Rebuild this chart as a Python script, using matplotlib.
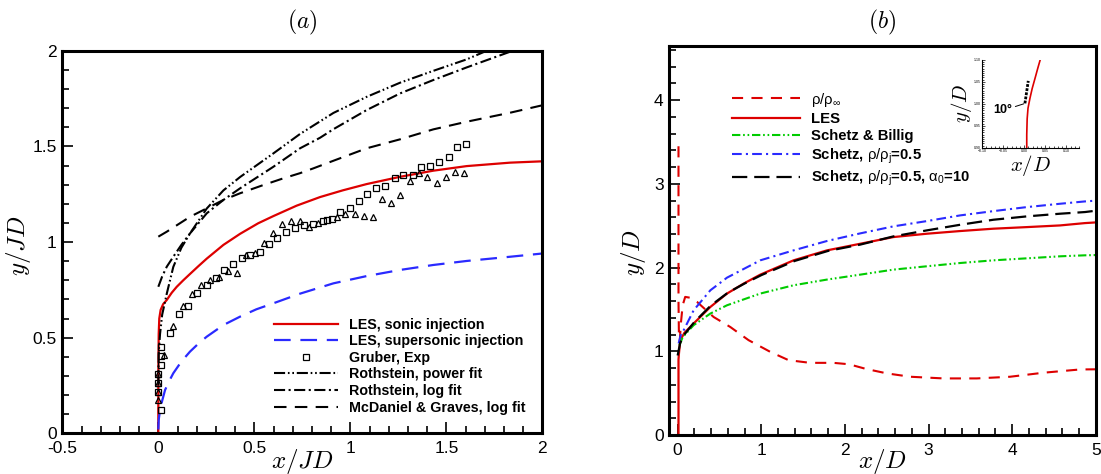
import matplotlib
matplotlib.use('Agg')
import matplotlib.pyplot as plt
from matplotlib.ticker import MultipleLocator

plt.rcParams['font.family'] = 'Liberation Sans'
plt.rcParams['mathtext.fontset'] = 'custom'
plt.rcParams['mathtext.rm'] = 'Liberation Sans'
plt.rcParams['mathtext.it'] = 'Liberation Sans'
plt.rcParams['mathtext.bf'] = 'Liberation Sans:bold'
plt.rcParams['lines.scale_dashes'] = False

# ---- (a) trajectories scaled by J*D ----
les_sonic_x = [0.0, 0.0, 0.002, 0.005, 0.012, 0.025, 0.044, 0.07, 0.096, 0.13, 0.165, 0.21, 0.252,
               0.339, 0.426, 0.52, 0.6, 0.72, 0.842, 0.96, 1.085, 1.259, 1.432, 1.606, 1.832, 2.0]
les_sonic_y = [0.0, 0.3, 0.52, 0.6, 0.645, 0.675, 0.697, 0.735, 0.766, 0.80, 0.833, 0.875, 0.913,
               0.985, 1.043, 1.098, 1.136, 1.19, 1.235, 1.27, 1.303, 1.341, 1.373, 1.397, 1.415, 1.422]

les_super_x = [0.0, 0.002, 0.009, 0.02, 0.035, 0.055, 0.078, 0.12, 0.165, 0.21, 0.252, 0.339, 0.426,
               0.51, 0.6, 0.738, 0.912, 1.085, 1.259, 1.432, 1.606, 1.832, 2.0]
les_super_y = [0.02, 0.07, 0.122, 0.17, 0.226, 0.27, 0.314, 0.375, 0.427, 0.47, 0.505, 0.566, 0.61,
               0.648, 0.68, 0.73, 0.784, 0.822, 0.854, 0.88, 0.901, 0.923, 0.94]

gruber_sq_x = [0.012, 0.012, 0.012, 0.0, 0.0, 0.0, 0.012, 0.061, 0.108, 0.156, 0.203, 0.252, 0.299,
               0.344, 0.391, 0.434, 0.479, 0.53, 0.575, 0.618, 0.664, 0.712, 0.759, 0.807, 0.856,
               0.88, 0.903, 0.946, 0.998, 1.045, 1.089, 1.134, 1.182, 1.231, 1.274, 1.328, 1.368,
               1.417, 1.464, 1.512, 1.556, 1.603]
gruber_sq_y = [0.453, 0.406, 0.358, 0.311, 0.263, 0.214, 0.122, 0.526, 0.622, 0.667, 0.735, 0.774,
               0.813, 0.854, 0.885, 0.915, 0.93, 0.946, 0.988, 1.023, 1.054, 1.072, 1.091, 1.094,
               1.11, 1.115, 1.12, 1.158, 1.176, 1.214, 1.253, 1.284, 1.293, 1.333, 1.352, 1.352,
               1.39, 1.397, 1.417, 1.443, 1.495, 1.511]

gruber_tri_x = [0.0, 0.0, 0.0, 0.0, 0.03, 0.078, 0.127, 0.174, 0.222, 0.269, 0.315, 0.365, 0.408,
                0.457, 0.504, 0.551, 0.599, 0.643, 0.691, 0.738, 0.786, 0.833, 0.929, 0.972, 1.024,
                1.071, 1.12, 1.167, 1.21, 1.257, 1.309, 1.356, 1.401, 1.45, 1.497, 1.544, 1.592]
gruber_tri_y = [0.174, 0.217, 0.265, 0.31, 0.409, 0.561, 0.667, 0.728, 0.774, 0.801, 0.819, 0.848,
                0.84, 0.932, 0.943, 0.996, 1.049, 1.094, 1.108, 1.111, 1.08, 1.098, 1.132, 1.146,
                1.146, 1.136, 1.129, 1.223, 1.205, 1.246, 1.321, 1.359, 1.338, 1.31, 1.341, 1.366,
                1.359]

power_x = [0.0, 0.002, 0.009, 0.02, 0.044, 0.078, 0.12, 0.165, 0.252, 0.339, 0.426, 0.6, 0.738,
           0.912, 1.085, 1.259, 1.432, 1.606, 1.71]
power_y = [0.25, 0.42, 0.52, 0.62, 0.73, 0.87, 0.97, 1.045, 1.175, 1.27, 1.34, 1.464, 1.565,
           1.675, 1.759, 1.833, 1.895, 1.955, 2.0]

logfit_x = [0.0, 0.02, 0.044, 0.078, 0.12, 0.165, 0.252, 0.339, 0.426, 0.6, 0.738, 0.842, 0.912,
            1.085, 1.259, 1.432, 1.606, 1.832, 1.845]
logfit_y = [0.766, 0.82, 0.871, 0.923, 0.985, 1.045, 1.15, 1.22, 1.281, 1.394, 1.49, 1.545, 1.59,
            1.69, 1.777, 1.847, 1.913, 1.995, 2.0]

mcd_x = [0.0, 0.044, 0.165, 0.339, 0.426, 0.547, 0.651, 0.738, 0.807, 0.912, 1.085, 1.259, 1.432,
         1.606, 1.832, 2.0]
mcd_y = [1.028, 1.054, 1.132, 1.22, 1.255, 1.298, 1.333, 1.36, 1.385, 1.425, 1.49, 1.537, 1.589,
         1.629, 1.676, 1.715]

# ---- (b) trajectories scaled by D ----
rho_x = [0.01, 0.01, 0.01, 0.015, 0.025, 0.04, 0.06, 0.09, 0.15, 0.232, 0.43, 0.63, 0.848, 1.108,
         1.326, 1.585, 1.864, 2.05, 2.25, 2.502, 2.78, 3.178, 3.577, 3.975, 4.373, 4.811, 5.0]
rho_y = [3.45, 2.5, 1.6, 1.2, 1.12, 1.35, 1.55, 1.65, 1.64, 1.59, 1.41, 1.29, 1.133, 0.993,
         0.894, 0.862, 0.862, 0.845, 0.79, 0.736, 0.696, 0.676, 0.676, 0.696, 0.744, 0.783, 0.785]

les_b_x = [0.01, 0.01, 0.015, 0.032, 0.08, 0.191, 0.391, 0.59, 0.789, 0.988, 1.386, 1.785, 2.183,
           2.58, 2.98, 3.378, 3.775, 4.174, 4.572, 4.871, 5.0]
les_b_y = [0.0, 0.9, 0.97, 1.133, 1.22, 1.332, 1.53, 1.69, 1.809, 1.916, 2.087, 2.206, 2.285,
           2.365, 2.405, 2.437, 2.465, 2.484, 2.504, 2.532, 2.54]

billig_x = [0.02, 0.06, 0.191, 0.391, 0.59, 0.988, 1.386, 1.785, 2.183, 2.58, 2.98, 3.378, 3.775,
            4.174, 4.572, 4.871, 5.0]
billig_y = [1.07, 1.17, 1.312, 1.451, 1.55, 1.69, 1.789, 1.857, 1.916, 1.976, 2.016, 2.055, 2.087,
            2.111, 2.135, 2.147, 2.15]

schetz_x = [0.012, 0.035, 0.072, 0.191, 0.391, 0.59, 0.988, 1.386, 1.785, 2.183, 2.58, 2.98, 3.378,
            3.775, 4.174, 4.572, 4.871, 5.0]
schetz_y = [1.094, 1.19, 1.252, 1.49, 1.729, 1.88, 2.087, 2.206, 2.318, 2.409, 2.493, 2.556, 2.624,
            2.675, 2.723, 2.763, 2.791, 2.8]

schetz_a_x = [0.0, 0.03, 0.08, 0.2, 0.4, 0.6, 0.8, 1.0, 1.4, 1.8, 2.183, 2.58, 2.98, 3.378, 3.775,
              4.174, 4.572, 4.871, 5.0]
schetz_a_y = [0.95, 1.1, 1.2, 1.35, 1.55, 1.70, 1.81, 1.91, 2.08, 2.2, 2.275, 2.373, 2.445, 2.512,
              2.572, 2.612, 2.644, 2.664, 2.68]

# near-field close-up
near_x = [0.006, 0.006, 0.007, 0.009, 0.0137, 0.019, 0.026, 0.032, 0.038]
near_y = [0.9, 0.93, 0.966, 0.99, 1.013, 1.035, 1.059, 1.08, 1.1]
angle_x = [0.0017, 0.0096]
angle_y = [1.001, 1.052]

RED = '#dd0000'
BLUE = '#2a2aff'
GREEN = '#00cc00'

fig = plt.figure(figsize=(11.01, 4.74), dpi=100)
ax1 = fig.add_axes([0.0566, 0.0859, 0.436, 0.807])
ax2 = fig.add_axes([0.6079, 0.0823, 0.3874, 0.821])


def frame(ax, minor_x, minor_y):
    for s in ax.spines.values():
        s.set_linewidth(2.2)
    ax.xaxis.set_minor_locator(MultipleLocator(minor_x))
    ax.yaxis.set_minor_locator(MultipleLocator(minor_y))
    ax.tick_params(which='both', direction='in', top=False, right=False, width=1.2,
                   labelsize=12.5)
    ax.tick_params(axis='x', pad=5.5)
    ax.tick_params(axis='y', pad=4)
    ax.tick_params(which='major', length=7.7)
    ax.tick_params(which='minor', length=4.8)


# panel (a)
ax1.plot(les_sonic_x, les_sonic_y, color=RED, lw=1.6, label='LES, sonic injection')
ax1.plot(les_super_x, les_super_y, color=BLUE, lw=1.6, dashes=(12, 7),
         label='LES, supersonic injection')
ax1.plot(gruber_sq_x, gruber_sq_y, ls='none', marker='s', ms=4.5, mfc='none', mec='black',
         mew=0.9, label='Gruber, Exp')
ax1.plot(gruber_tri_x, gruber_tri_y, ls='none', marker='^', ms=5, mfc='none', mec='black',
         mew=0.9)
ax1.plot(power_x, power_y, color='black', lw=1.5, dashes=(8, 2, 1.2, 2, 1.2, 2),
         label='Rothstein, power fit')
ax1.plot(logfit_x, logfit_y, color='black', lw=1.5, dashes=(8, 2.5, 1.5, 2.5),
         label='Rothstein, log fit')
ax1.plot(mcd_x, mcd_y, color='black', lw=1.5, dashes=(9, 6),
         label='McDaniel & Graves, log fit')
ax1.set_xlim(-0.5, 2)
ax1.set_ylim(0, 2)
ax1.set_xticks([-0.5, 0, 0.5, 1, 1.5, 2])
ax1.set_xticklabels(['-0.5', '0', '0.5', '1', '1.5', '2'])
ax1.set_yticks([0, 0.5, 1, 1.5, 2])
ax1.set_yticklabels(['0', '0.5', '1', '1.5', '2'])
frame(ax1, 0.1, 0.1)
ax1.set_xlabel('$x/JD$', fontsize=18, math_fontfamily='cm')
ax1.set_ylabel('$y/JD$', fontsize=18, math_fontfamily='cm')
ax1.xaxis.set_label_coords(0.5, -0.036)
ax1.yaxis.set_label_coords(-0.061, 0.49)
ax1.legend(loc='upper left', bbox_to_anchor=(0.44, 0.302), frameon=False, borderpad=0,
           borderaxespad=0, handlelength=4.5, handletextpad=0.8, labelspacing=0.18,
           numpoints=1, prop={'family': 'Liberation Sans', 'weight': 'bold', 'size': 10.3})

# panel (b)
ax2.plot(rho_x, rho_y, color=RED, lw=1.5, dashes=(8, 6), label=r'$\rho/\rho_\infty$')
ax2.plot(les_b_x, les_b_y, color=RED, lw=1.6, label='LES')
ax2.plot(billig_x, billig_y, color=GREEN, lw=1.5, dashes=(6, 2, 1.2, 2, 1.2, 2),
         label='Schetz & Billig')
ax2.plot(schetz_x, schetz_y, color=BLUE, lw=1.5, dashes=(7, 3, 1.5, 3),
         label=r'Schetz, $\rho/\rho_j$=0.5')
ax2.plot(schetz_a_x, schetz_a_y, color='black', lw=1.6, dashes=(11, 5),
         label=r'Schetz, $\rho/\rho_j$=0.5, $\alpha_0$=10')
ax2.set_xlim(-0.1, 5)
ax2.set_ylim(0, 4.65)
ax2.set_xticks([0, 1, 2, 3, 4, 5])
ax2.set_yticks([0, 1, 2, 3, 4])
frame(ax2, 0.2, 0.2)
ax2.set_xlabel('$x/D$', fontsize=18, math_fontfamily='cm')
ax2.set_ylabel('$y/D$', fontsize=18, math_fontfamily='cm')
ax2.xaxis.set_label_coords(0.5, -0.031)
ax2.yaxis.set_label_coords(-0.05, 0.47)
ax2.legend(loc='upper left', bbox_to_anchor=(0.146, 0.885), frameon=False, borderpad=0,
           borderaxespad=0, handlelength=4.6, handletextpad=0.75, labelspacing=0.22,
           prop={'family': 'Liberation Sans', 'weight': 'bold', 'size': 10.7})

# inset: jet exit region
ax3 = fig.add_axes([0.892, 0.688, 0.088, 0.186])
ax3.plot(near_x, near_y, color=RED, lw=1.2)
ax3.plot(angle_x, angle_y, color='black', lw=2.0, dashes=(2, 1))
ax3.annotate('10°', xy=(-0.001, 1.0), xytext=(-0.05, 0.985), fontsize=9, fontweight='bold',
             ha='center', va='center',
             arrowprops=dict(arrowstyle='-', color='black', lw=0.7, shrinkA=8, shrinkB=0))
ax3.set_xlim(-0.1, 0.13)
ax3.set_ylim(0.9, 1.1)
ax3.set_xticks([-0.1, -0.05, 0, 0.05, 0.1])
ax3.set_yticks([0.9, 0.95, 1.0, 1.05, 1.1])
ax3.xaxis.set_minor_locator(MultipleLocator(0.01))
ax3.yaxis.set_minor_locator(MultipleLocator(0.005))
for s in ax3.spines.values():
    s.set_linewidth(0.8)
ax3.spines['top'].set_visible(False)
ax3.spines['right'].set_visible(False)
ax3.tick_params(which='both', direction='in', labelsize=2.5, pad=1, width=0.5)
ax3.tick_params(which='major', length=2.5)
ax3.tick_params(which='minor', length=1.5)
ax3.set_xlabel('$x/D$', fontsize=15, math_fontfamily='cm', labelpad=0)
ax3.set_ylabel('$y/D$', fontsize=15, math_fontfamily='cm', labelpad=0)

fig.text(302 / 1101, 1 - 22 / 474, '$(a)$', fontsize=17, ha='center', va='center',
         math_fontfamily='cm')
fig.text(882 / 1101, 1 - 22 / 474, '$(b)$', fontsize=17, ha='center', va='center',
         math_fontfamily='cm')

fig.savefig('out.png', dpi=100)
